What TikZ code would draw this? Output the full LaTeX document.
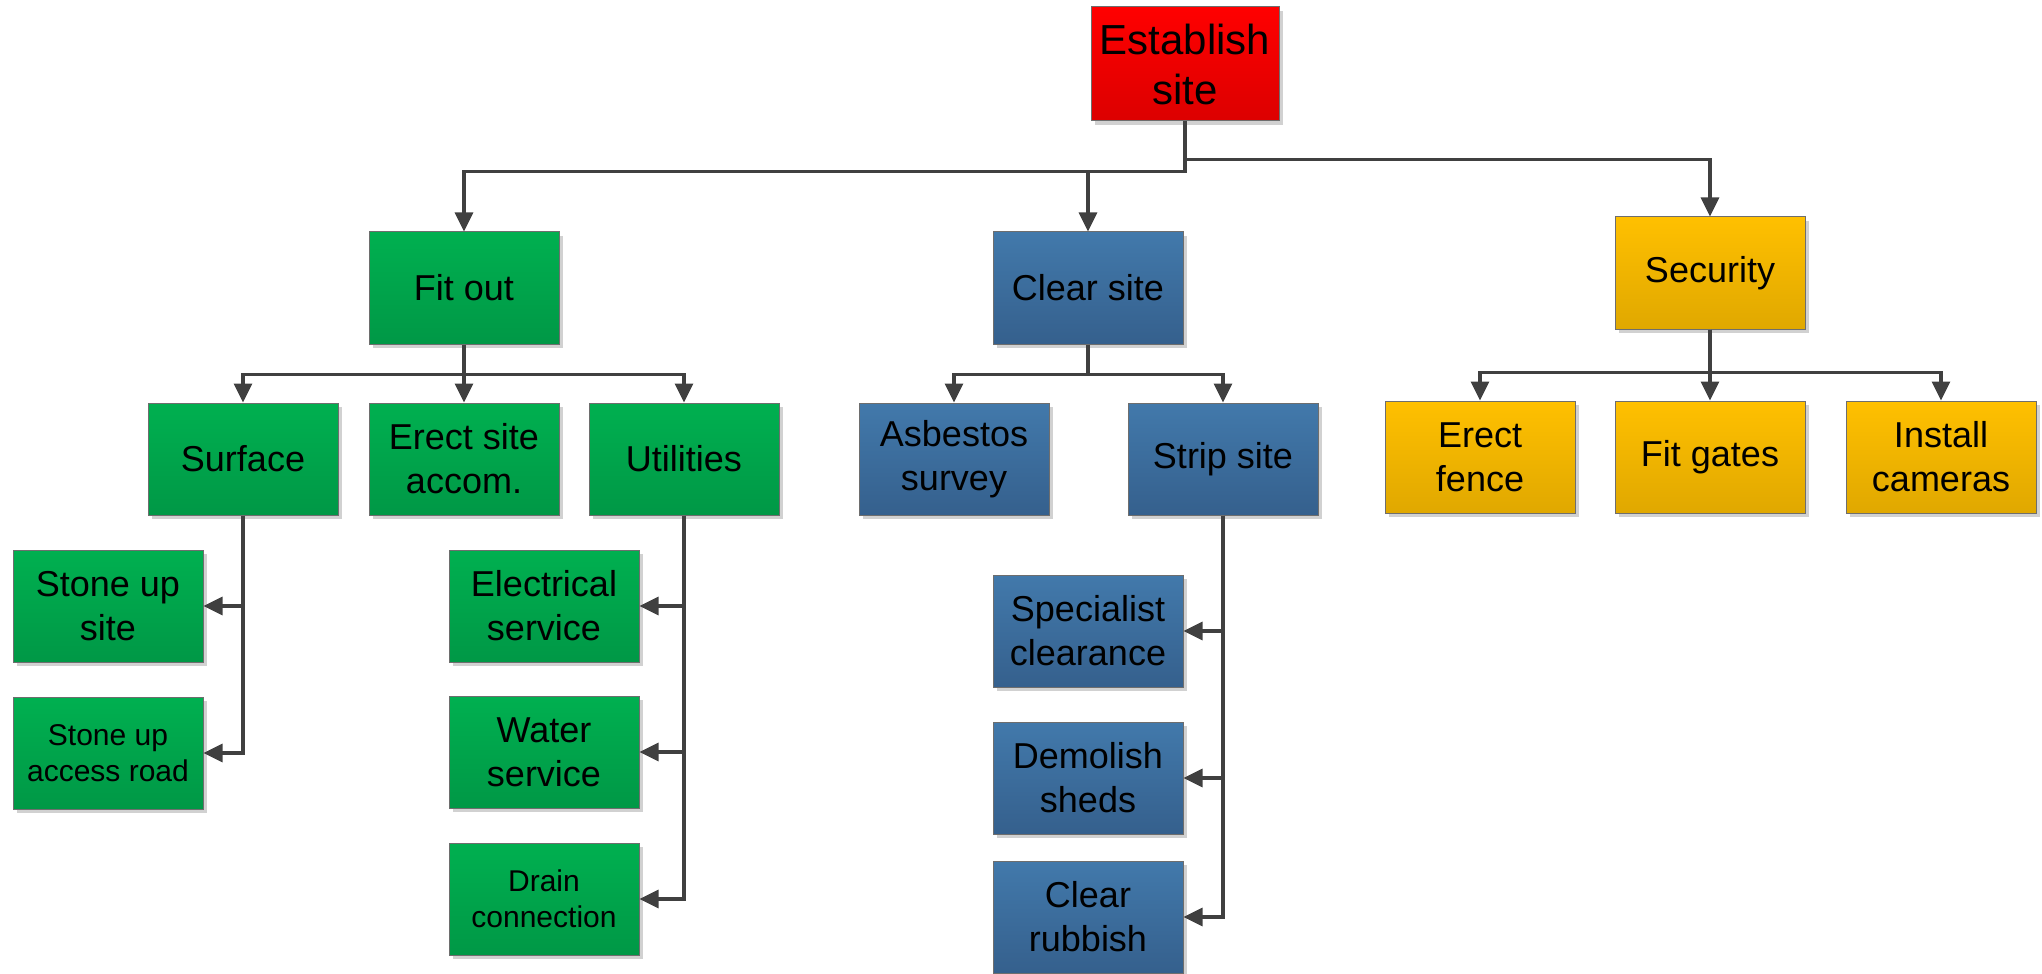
\documentclass[tikz,border=0pt]{standalone}
\usepackage{fontspec}
\setmainfont{Liberation Sans}
\usepackage{xcolor}
\usepackage{tikz}
\usetikzlibrary{arrows.meta, positioning, calc, shapes, shadows}

\definecolor{redtop}{HTML}{FF0000}
\definecolor{redbot}{HTML}{DC0000}
\definecolor{greentop}{HTML}{00B050}
\definecolor{greenbot}{HTML}{009846}
\definecolor{bluetop}{HTML}{4279AB}
\definecolor{bluebot}{HTML}{35608D}
\definecolor{yellowtop}{HTML}{FFC000}
\definecolor{yellowbot}{HTML}{E0A800}
\definecolor{linegray}{HTML}{404040}
\definecolor{bordergray}{HTML}{6E6E6E}

\begin{document}
\begin{tikzpicture}[
    box/.style={rectangle, draw=bordergray, line width=0.5pt, minimum width=95pt, minimum height=56pt, inner sep=2pt, align=center, font=\fontsize{18}{22}\selectfont, drop shadow={shadow xshift=2pt, shadow yshift=-2pt, fill=black!18, opacity=1}},
    small/.style={font=\fontsize{15}{18}\selectfont},
    redbox/.style={box, top color=redtop, bottom color=redbot, minimum width=94pt, minimum height=57pt, font=\fontsize{21}{25}\selectfont},
    greenbox/.style={box, top color=greentop, bottom color=greenbot},
    bluebox/.style={box, top color=bluetop, bottom color=bluebot},
    yellowbox/.style={box, top color=yellowtop, bottom color=yellowbot},
    arrow/.style={-{Triangle[length=9.5pt, width=9pt]}, line width=1.6pt, draw=linegray}
]
\useasboundingbox (0,0) rectangle (1021pt,-487pt);

\node[redbox] (root) at (592.5pt,-32pt) {Establish\\site};

% first level
\node[bluebox, below=55pt of root, xshift=-48.5pt] (clear) {Clear site};
\node[greenbox, left=216.5pt of clear] (fitout) {Fit out};
\node[yellowbox, below=47.5pt of root, xshift=262.5pt] (security) {Security};

% fit out branch
\node[greenbox, below=29pt of fitout] (accom) {Erect site\\accom.};
\node[greenbox, left=15pt of accom] (surface) {Surface};
\node[greenbox, right=14.5pt of accom] (utilities) {Utilities};
\node[greenbox, below=17pt of surface, xshift=-67.5pt] (stonesite) {Stone up\\site};
\node[greenbox, small, below=17pt of stonesite] (stoneroad) {Stone up\\access road};
\node[greenbox, below=17pt of utilities, xshift=-70pt] (elec) {Electrical\\service};
\node[greenbox, below=16.5pt of elec] (water) {Water\\service};
\node[greenbox, small, below=17pt of water] (drain) {Drain\\connection};

% clear site branch
\node[bluebox, below=29pt of clear, xshift=-67pt] (asbestos) {Asbestos\\survey};
\node[bluebox, right=39pt of asbestos] (strip) {Strip site};
\node[bluebox, below=29.5pt of strip, xshift=-67.5pt] (specialist) {Specialist\\clearance};
\node[bluebox, below=17pt of specialist] (demolish) {Demolish\\sheds};
\node[bluebox, below=13pt of demolish] (rubbish) {Clear\\rubbish};

% security branch
\node[yellowbox, below=35.5pt of security] (gates) {Fit gates};
\node[yellowbox, left=19.5pt of gates] (fence) {Erect\\fence};
\node[yellowbox, right=20pt of gates] (cameras) {Install\\cameras};

\draw[arrow] (root.south) -- ++(0,-25pt) -| (fitout.north);
\draw[arrow] (root.south) -- ++(0,-25pt) -| (clear.north);
\draw[arrow] (root.south) -- ++(0,-19pt) -| (security.north);

\draw[arrow] (fitout.south) -- ++(0,-15pt) -| (surface.north);
\draw[arrow] (fitout.south) -- ++(0,-15pt) -| (accom.north);
\draw[arrow] (fitout.south) -- ++(0,-15pt) -| (utilities.north);
\draw[arrow] (surface.south) |- (stonesite.east);
\draw[arrow] (surface.south) |- (stoneroad.east);
\draw[arrow] (utilities.south) |- (elec.east);
\draw[arrow] (utilities.south) |- (water.east);
\draw[arrow] (utilities.south) |- (drain.east);

\draw[arrow] (clear.south) -- ++(0,-15pt) -| (asbestos.north);
\draw[arrow] (clear.south) -- ++(0,-15pt) -| (strip.north);
\draw[arrow] (strip.south) |- (specialist.east);
\draw[arrow] (strip.south) |- (demolish.east);
\draw[arrow] (strip.south) |- (rubbish.east);

\draw[arrow] (security.south) -- ++(0,-21.5pt) -| (fence.north);
\draw[arrow] (security.south) -- ++(0,-21.5pt) -| (gates.north);
\draw[arrow] (security.south) -- ++(0,-21.5pt) -| (cameras.north);

\end{tikzpicture}
\end{document}
